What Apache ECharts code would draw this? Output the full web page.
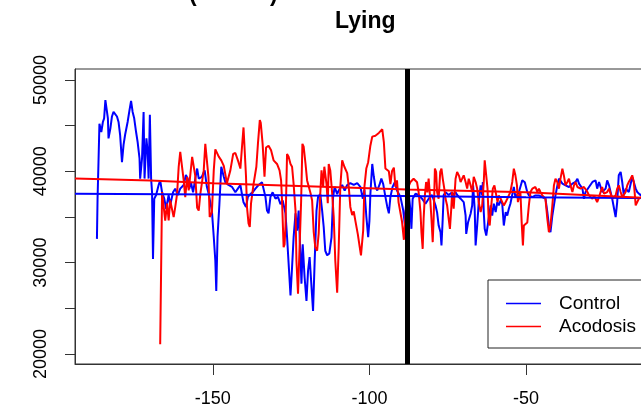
<!DOCTYPE html>
<html lang="en">
<head>
    <meta charset="utf-8">
    <title>Lying</title>
    <script src="https://cdn.jsdelivr.net/npm/echarts@6/dist/echarts.min.js"></script>
    <style>
        html, body { margin: 0; padding: 0; background: #fff; overflow: hidden; }
    </style>
</head>
<body>
<!-- chart is wider than the window: the plot box runs off the right edge as in the original -->
<div id="main" style="width: 680px;height:409px;"></div>
<script type="text/javascript">
    // [x, value] readings, Control series
    var controlData = [
        [-187.0,32600],[-186.8,37000],[-186.5,41000],[-186.2,45200],[-185.6,44300],[-185.1,45400],[-184.7,45800],[-184.3,47800],
        [-183.8,48000],[-183.5,45800],[-183.3,43600],[-182.7,44700],[-182.2,46000],[-181.7,46500],[-181.2,46300],[-180.6,46000],
        [-180.1,45400],[-179.6,44000],[-179.0,41000],[-178.5,42900],[-178.0,44000],[-177.2,45400],[-176.6,46700],[-176.1,47700],
        [-175.6,46500],[-175.1,45800],[-174.5,44300],[-174.0,43200],[-173.4,41400],[-173.2,39200],[-172.6,41400],[-172.1,46500],
        [-171.8,39200],[-171.2,43600],[-170.8,42100],[-170.5,39200],[-170.1,46200],[-169.7,39200],[-169.4,37700],[-169.1,30400],
        [-168.7,37000],[-168.1,37400],[-167.3,38500],[-166.8,39000],[-166.2,37700],[-165.5,37000],[-164.9,35900],[-164.1,37400],
        [-163.6,36300],[-162.7,37700],[-162.0,38100],[-161.2,37400],[-160.4,38100],[-159.3,38500],[-158.6,39600],[-158.0,39200],
        [-157.5,38100],[-157.0,38800],[-156.3,37700],[-155.6,39200],[-155.0,40300],[-154.5,39200],[-153.5,39400],[-152.6,40100],
        [-151.9,38300],[-151.3,37500],[-150.3,35700],[-149.7,32800],[-149.2,30200],[-148.9,26900],[-148.5,32800],[-147.9,36400],
        [-147.3,40500],[-146.5,39400],[-146.0,38800],[-145.0,38500],[-143.9,38300],[-142.8,37700],[-142.0,38100],[-141.2,38500],
        [-140.7,37500],[-140.2,36600],[-139.4,36100],[-138.8,37200],[-138.0,37500],[-137.3,37700],[-136.4,38100],[-135.4,38500],
        [-134.3,38800],[-133.2,37200],[-132.7,35700],[-132.2,35400],[-131.6,37200],[-130.9,37700],[-130.0,37000],[-129.2,37200],
        [-128.4,36400],[-127.7,36800],[-126.8,35400],[-126.3,32800],[-125.8,29900],[-125.2,26400],[-124.7,29500],[-124.2,32800],
        [-123.6,35400],[-123.1,33500],[-122.6,35700],[-122.0,30600],[-121.7,27700],[-121.3,32000],[-120.7,28400],[-120.1,25800],
        [-119.6,29100],[-119.1,30600],[-118.0,24700],[-117.5,30000],[-116.9,35700],[-116.4,37200],[-115.7,37500],[-115.1,35700],
        [-114.6,33900],[-114.1,31300],[-113.5,30800],[-112.8,31000],[-112.1,32800],[-111.6,37200],[-111.1,38300],[-110.3,37500],
        [-109.8,37900],[-108.7,38500],[-107.9,37900],[-107.1,38500],[-106.1,38700],[-105.0,38500],[-103.9,38700],[-102.9,38300],
        [-102.1,37000],[-101.6,38000],[-101.0,35100],[-100.4,32800],[-100.0,34600],[-99.7,37500],[-99.1,40800],[-98.6,39400],
        [-98.1,38300],[-97.5,37900],[-96.8,38500],[-96.2,39200],[-95.6,38600],[-94.9,37200],[-94.3,36100],[-93.8,35400],
        [-93.3,37200],[-92.6,38300],[-91.9,38800],[-91.2,37900],[-90.1,37200],[-89.2,35700],[-88.7,34200],[-88.2,37000],
        [-87.4,37400],[-86.9,35700],[-86.6,33700],[-86.2,37000],[-85.3,37550],[-84.3,37400],[-83.2,37000],[-82.1,36450],
        [-81.1,37000],[-80.0,37400],[-78.9,36260],[-78.4,35500],[-77.9,34060],[-77.3,33330],[-77.0,31870],[-76.6,34800],
        [-76.3,37400],[-75.7,37700],[-75.2,37910],[-74.7,37400],[-73.6,37700],[-73.1,37400],[-72.5,37700],[-72.0,37400],
        [-70.9,37000],[-69.9,36630],[-69.3,35160],[-69.1,33150],[-68.5,34430],[-67.7,35350],[-67.2,36260],[-66.9,38460],
        [-66.4,35900],[-66.1,31870],[-65.6,34060],[-65.1,36630],[-64.5,38460],[-64.0,37360],[-63.8,38830],[-63.5,35530],
        [-63.2,33700],[-62.7,32970],[-62.1,34430],[-61.3,36260],[-60.8,35160],[-60.3,36450],[-59.7,35530],[-59.2,36630],
        [-58.7,36260],[-58.1,36810],[-57.6,36450],[-57.1,34060],[-56.5,35530],[-56.0,35160],[-55.5,35900],[-55.0,36450],
        [-54.4,36630],[-53.9,38280],[-53.4,37180],[-52.3,37700],[-51.2,39010],[-50.4,38800],[-49.6,37700],[-49.1,37360],
        [-48.0,37180],[-47.0,37360],[-45.9,37360],[-44.8,37180],[-43.8,37000],[-43.2,35530],[-42.7,34060],[-42.2,33330],
        [-41.6,35160],[-41.1,36260],[-40.6,37360],[-40.0,38460],[-39.5,39190],[-38.4,38650],[-37.4,38460],[-36.3,38280],
        [-35.2,38650],[-34.2,38830],[-33.6,39190],[-33.1,38650],[-32.0,38100],[-31.5,36990],[-31.0,37730],[-29.9,38280],
        [-28.8,38830],[-27.8,39010],[-27.3,38100],[-26.7,38830],[-25.7,37730],[-24.6,38100],[-24.1,39010],[-23.5,38460],
        [-22.5,37000],[-21.9,35900],[-21.4,34980],[-20.9,36630],[-20.4,39560],[-19.8,39930],[-19.3,38830],[-18.8,37360],
        [-18.2,38100],[-17.2,37730],[-16.1,39380],[-15.6,38830],[-15.0,38100],[-14.5,37730],[-13.4,37360],[-12.5,37800],
        [-11.5,38200],[-10.5,37400]
    ];

    // [x, value] readings, Acodosis series
    var acodosisData = [
        [-166.8,21060],[-166.5,29490],[-166.2,37730],[-165.2,34610],[-164.6,36450],[-164.1,34610],[-163.6,36810],[-162.5,34980],
        [-162.0,36080],[-161.4,37550],[-160.9,40480],[-160.4,42120],[-159.8,41940],[-159.3,39010],[-158.8,37180],[-158.2,39380],
        [-157.7,37910],[-156.6,41580],[-156.1,41580],[-155.6,39500],[-155.0,36000],[-154.5,35700],[-154.0,37500],[-152.9,40100],
        [-152.4,43000],[-151.9,43100],[-151.4,39400],[-151.0,35000],[-150.3,35500],[-149.7,40100],[-149.2,42400],[-148.1,41600],
        [-147.3,41200],[-146.5,40600],[-145.5,38700],[-144.4,40100],[-143.5,41900],[-142.8,42000],[-141.8,41000],[-141.2,40300],
        [-140.7,42600],[-140.2,44800],[-139.6,44700],[-139.4,39400],[-139.1,36100],[-138.6,34300],[-138.2,33900],[-137.8,36500],
        [-137.0,38600],[-136.1,40500],[-135.6,43000],[-135.0,45600],[-134.7,45300],[-134.1,43000],[-133.5,39400],[-133.0,42600],
        [-132.2,42800],[-131.4,42300],[-130.6,41200],[-129.5,40800],[-128.7,40100],[-128.2,39000],[-127.9,36800],[-127.4,31700],
        [-127.1,32000],[-126.8,34000],[-126.3,41900],[-125.8,41600],[-125.2,40800],[-124.7,40500],[-124.2,38600],[-123.6,35700],
        [-123.3,30200],[-122.8,26600],[-122.3,31700],[-121.8,36800],[-121.4,43000],[-121.0,42700],[-120.4,40800],[-119.9,39000],
        [-119.4,38800],[-118.8,37600],[-118.3,36800],[-117.8,33400],[-117.3,31700],[-116.7,31300],[-116.2,33200],[-115.7,37500],
        [-115.3,40100],[-114.8,38300],[-114.4,40500],[-113.7,38600],[-113.3,36500],[-113.0,40800],[-112.5,40100],[-111.9,37600],
        [-111.4,35000],[-110.9,30200],[-110.3,26700],[-109.8,31700],[-109.3,38300],[-108.7,41200],[-108.0,40500],[-107.1,39800],
        [-106.6,38300],[-106.1,36100],[-105.5,35200],[-105.0,35600],[-104.5,34600],[-103.7,33100],[-103.1,31700],[-102.7,30800],
        [-102.0,33500],[-101.6,38300],[-101.0,40300],[-100.4,41000],[-99.7,42800],[-99.1,43800],[-98.1,43900],[-97.0,44200],
        [-95.9,44600],[-95.4,43200],[-94.9,40300],[-93.8,40000],[-93.3,38600],[-92.8,40000],[-92.2,40400],[-91.7,38300],
        [-91.2,39000],[-90.7,36600],[-90.1,36800],[-89.6,34500],[-89.0,32500],[-88.5,35000],[-87.9,38000],[-86.9,38830],
        [-86.4,39010],[-85.9,39190],[-85.3,39000],[-84.8,38800],[-84.3,37730],[-83.7,35530],[-83.4,33330],[-83.0,31500],
        [-82.7,34800],[-82.3,37360],[-81.9,38830],[-81.5,37700],[-81.1,39190],[-80.6,37000],[-80.2,34800],[-79.8,32240],
        [-79.5,34800],[-79.1,40290],[-78.7,39900],[-78.4,37730],[-77.9,37000],[-77.4,39930],[-77.0,40290],[-76.6,39200],
        [-76.1,38100],[-75.7,36990],[-75.2,36260],[-74.7,34800],[-74.3,33700],[-73.9,35800],[-73.6,37730],[-73.1,35900],
        [-72.5,39190],[-72.0,39930],[-71.4,39500],[-70.9,38830],[-70.4,39190],[-69.9,39560],[-69.3,38830],[-68.8,38100],
        [-68.3,39190],[-67.7,38460],[-67.2,37730],[-66.7,39380],[-66.1,38830],[-65.6,38100],[-65.1,36630],[-64.5,35530],
        [-64.0,36260],[-63.5,38830],[-63.2,41210],[-62.7,41390],[-62.3,38100],[-61.9,34430],[-61.6,34060],[-61.1,36260],
        [-60.6,38100],[-60.1,38460],[-59.5,37360],[-59.1,36630],[-58.7,37360],[-58.1,36990],[-57.6,36630],[-57.1,36260],
        [-56.5,36630],[-56.0,36990],[-55.5,37360],[-55.0,37730],[-54.4,38830],[-53.9,40290],[-53.4,39560],[-52.9,38460],
        [-52.6,36630],[-51.8,37730],[-51.4,34430],[-51.0,31870],[-50.7,34060],[-50.2,34250],[-49.6,34400],[-49.1,36260],
        [-48.6,37730],[-48.0,38100],[-47.0,38280],[-46.4,37730],[-45.9,38100],[-45.4,37730],[-44.8,37360],[-44.3,37360],
        [-43.8,36990],[-43.2,34800],[-42.7,33330],[-42.2,34060],[-41.6,36260],[-41.1,38460],[-40.6,39190],[-40.0,38800],
        [-39.5,38100],[-39.0,39190],[-38.4,40290],[-37.9,39500],[-37.4,38460],[-36.8,38830],[-36.3,39190],[-35.8,38460],
        [-35.2,37730],[-34.7,38460],[-34.2,38830],[-33.6,38280],[-33.1,38460],[-32.6,38100],[-32.0,37900],[-31.5,38280],
        [-31.0,38460],[-30.4,37730],[-29.9,37360],[-29.4,37550],[-28.8,36990],[-28.3,37360],[-27.8,36990],[-27.3,36630],
        [-26.7,37180],[-26.2,37730],[-25.7,38280],[-25.1,37550],[-24.6,37360],[-24.1,37730],[-23.5,38100],[-23.0,37900],
        [-22.5,36990],[-21.9,36990],[-21.4,37360],[-20.9,38100],[-20.4,38460],[-19.8,37730],[-19.3,37180],[-18.8,37360],
        [-18.2,37730],[-17.7,38460],[-17.2,38830],[-16.6,39190],[-16.1,39560],[-15.6,38830],[-15.0,36260],[-14.5,36630],
        [-14.0,36990],[-13.1,37200],[-12.0,37600],[-11.0,37000]
    ];

    // fitted trend lines
    var controlTrend = [[-194, 37550], [-150, 37450], [-120, 37350], [-90, 37300], [-50, 37150], [-5, 37050]];
    var acodosisTrend = [[-194, 39200], [-170, 39000], [-150, 38700], [-115, 38300], [-88, 38000], [-60, 37800], [-50, 37700], [-13, 37100], [-5, 36950]];

    var markerX = -88;
    var xTicks = [-150, -100, -50];
    var yTicks = [20000, 25000, 30000, 35000, 40000, 45000, 50000];
    var yLabels = [20000, 30000, 40000, 50000];

    var font = 'Liberation Sans, Arial, sans-serif';
    var myChart = echarts.init(document.getElementById('main'));
    var option = {
        animation: false,
        backgroundColor: '#ffffff',
        graphic: [
            { type: 'text', left: 189, top: -17, style: { text: '(', font: 'bold 23px ' + font, fill: '#000' } },
            { type: 'text', left: 270, top: -17, style: { text: ')', font: 'bold 23px ' + font, fill: '#000' } },
            { type: 'text', left: 335, top: 10, style: { text: 'Lying', font: 'bold 23px ' + font, fill: '#000' } }
        ],
        grid: {
            left: 75, top: 69, right: 13, bottom: 45,
            show: true, borderColor: '#333', borderWidth: 1
        },
        legend: {
            data: ['Control', 'Acodosis'],
            orient: 'vertical',
            left: 488, top: 280,
            padding: [14, 40, 12, 18],
            itemGap: 4,
            itemWidth: 35, itemHeight: 1.5,
            icon: 'rect',
            borderColor: '#222', borderWidth: 1, borderRadius: 0,
            backgroundColor: '#fff',
            textStyle: { fontFamily: font, fontSize: 19, lineHeight: 16, color: '#000', padding: [0, 0, 0, 13] }
        },
        xAxis: {
            type: 'value', min: -194, max: -5,
            splitLine: { show: false },
            axisLine: { show: true, onZero: false, lineStyle: { color: '#333' } },
            axisTick: { show: true, length: 11, customValues: xTicks, lineStyle: { color: '#333' } },
            axisLabel: { customValues: xTicks, margin: 26, fontFamily: font, fontSize: 18, color: '#000',
                formatter: function (v) { return String(v); } }
        },
        yAxis: {
            type: 'value', min: 18900, max: 51200,
            splitLine: { show: false },
            axisLine: { show: true, lineStyle: { color: '#333' } },
            axisTick: { show: true, length: 10, customValues: yTicks, lineStyle: { color: '#333' } },
            axisLabel: { customValues: yLabels, rotate: 90, margin: 25, fontFamily: font, fontSize: 18, color: '#000',
                formatter: function (v) { return String(v); } }
        },
        series: [
            {
                name: 'Control', type: 'line', data: controlData,
                symbol: 'none', lineStyle: { color: '#0000ff', width: 2 }, itemStyle: { color: '#0000ff' }
            },
            {
                name: 'Acodosis', type: 'line', data: acodosisData,
                symbol: 'none', lineStyle: { color: '#ff0000', width: 2 }, itemStyle: { color: '#ff0000' }
            },
            {
                name: 'ControlFit', type: 'line', data: controlTrend,
                symbol: 'none', lineStyle: { color: '#0000ff', width: 2 }
            },
            {
                name: 'AcodosisFit', type: 'line', data: acodosisTrend,
                symbol: 'none', lineStyle: { color: '#ff0000', width: 2 },
                markLine: {
                    silent: true, symbol: 'none',
                    label: { show: false },
                    lineStyle: { color: '#000', width: 5, type: 'solid' },
                    data: [{ xAxis: markerX }]
                }
            }
        ]
    };
    myChart.setOption(option);
</script>
</body>
</html>
